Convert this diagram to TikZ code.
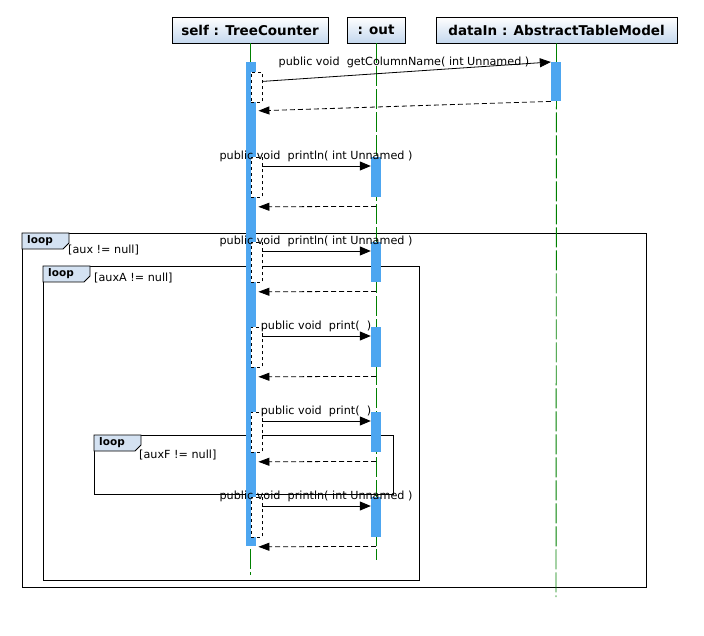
\documentclass[tikz,border=0pt]{standalone}
\usepackage{fontspec}
\setmainfont{DejaVu Sans}
\usetikzlibrary{arrows.meta}
\definecolor{barblue}{RGB}{77,166,240}
\definecolor{tabblue}{RGB}{212,226,242}
\definecolor{lifegreen}{RGB}{0,128,0}
\definecolor{headbot}{RGB}{196,216,238}
\begin{document}
\begin{tikzpicture}[x=1pt,y=-1pt,
  header/.style={draw=black, line width=0.9pt, top color=white, bottom color=headbot,
    font=\bfseries\fontsize{13.5}{15}\selectfont, minimum height=26pt, inner sep=0pt},
  lifeline/.style={draw=lifegreen, line width=0.9pt, dash pattern=on 20pt off 3pt},
  actbar/.style={fill=barblue, draw=none, minimum width=10pt, inner sep=0pt, anchor=north},
  selfcall/.style={fill=white, draw=black, dashed, line width=0.8pt, minimum width=11pt,
    minimum height=30pt, inner sep=0pt, anchor=north},
  msg/.style={draw=black, line width=0.8pt, -{Triangle[length=11pt,width=9pt]}},
  ret/.style={draw=black, line width=0.8pt, dash pattern=on 5pt off 3pt, -{Triangle[length=11pt,width=8pt]}},
  lbl/.style={font=\fontsize{11.2}{13}\selectfont, inner sep=0pt},
  frame/.style={draw=black, line width=0.9pt, inner sep=0pt, anchor=north west},
  tab/.style={draw=black, line width=0.9pt, fill=tabblue},
  looplbl/.style={font=\bfseries\fontsize{10.5}{12}\selectfont, inner sep=0pt},
  cond/.style={font=\fontsize{11.2}{13}\selectfont, inner sep=0pt, anchor=west}
]
\useasboundingbox (0,0) rectangle (704,636);

% combined fragments
\node[frame, minimum width=624pt, minimum height=354pt] (f1) at (22,233) {};
\node[frame, minimum width=376pt, minimum height=314pt] (f2) at (43,266) {};
\node[frame, minimum width=299pt, minimum height=59pt] (f3) at (94,435) {};
\foreach \f in {f1,f2,f3}{
  \draw[tab] (\f.north west) -- ++(47,0) -- ++(0,10) -- ++(-6,6) -- ++(-41,0) -- cycle;
}
\node[looplbl] (t1) at ([shift={(18,8)}]f1.north west) {loop};
\node[looplbl] (t2) at ([shift={(18,8)}]f2.north west) {loop};
\node[looplbl] (t3) at ([shift={(18,8)}]f3.north west) {loop};
\node[cond] (k1) at (68,250) {[aux != null]};
\node[cond] (k2) at (94,278) {[auxA != null]};
\node[cond] (k3) at (139,455) {[auxF != null]};

% headers
\node[header, minimum width=156pt] (h1) at (250,30) {self : TreeCounter};
\node[header, minimum width=58pt] (h2) at (376,30) {: out};
\node[header, minimum width=241pt] (h3) at (556.5,30) {dataIn : AbstractTableModel};

% lifelines
\coordinate (e1) at (250,575);
\coordinate (e2) at (376,560);
\coordinate (e3) at (556,597);
\draw[lifeline] (h1.south) -- (e1);
\draw[lifeline] (h2.south) -- (e2);
\draw[lifeline] (h3.south) -- (e3);

% activation bars
\node[actbar, minimum height=484pt] (sbar) at (251,62) {};
\node[actbar, minimum height=39pt] (dbar) at (556,62) {};
\foreach \i/\t in {2/157,3/242,4/327,5/412,6/497}{
  \node[actbar, minimum height=40pt] (ob\i) at (376,\t) {};
  \node[selfcall, minimum height=40pt] (c\i) at (256.5,\t) {};
}
\node[selfcall] (c1) at (256.5,72) {};

% message 1
\node[lbl] (l1) at (404,62) {public void~~getColumnName( int Unnamed )};
\draw[msg] ([yshift=6pt]c1.east) -- (dbar.north west);
\draw[ret] (dbar.south west) -- ([xshift=-4pt,yshift=-8pt]c1.south east);

% messages to out
\foreach \i/\t in {2/157,3/242,6/497}{
  \node[lbl] (l\i) at (316,\t-1) {public void~~println( int Unnamed )};
}
\foreach \i/\t in {4/327,5/412}{
  \node[lbl] (l\i) at (316,\t-1) {public void~~print(~~)};
}
\foreach \i in {2,3,4,5,6}{
  \draw[msg] ([yshift=-9pt]c\i.north east) -- ([yshift=-9pt]ob\i.north west);
  \draw[ret] ([yshift=-9pt]ob\i.south) -- ([xshift=-4pt,yshift=-9pt]c\i.south east);
}
\end{tikzpicture}
\end{document}
